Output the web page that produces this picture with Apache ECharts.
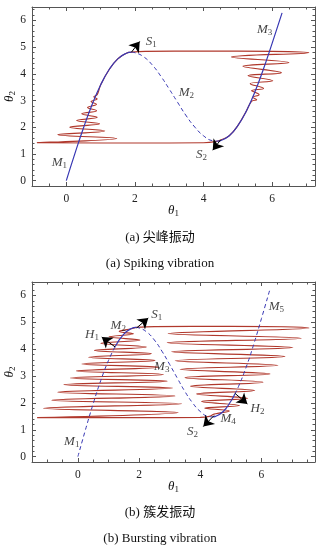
<!DOCTYPE html>
<html><head><meta charset="utf-8">
<script src="https://cdn.jsdelivr.net/npm/echarts@6/dist/echarts.min.js"></script>
<style>html,body{margin:0;padding:0;background:#fff;}#c{width:327px;height:551px;}</style>
</head><body><div id="c"></div>
<script>
// ---------- tick labels ----------
const xTickLabels = [0, 2, 4, 6];
const yTickLabels = [0, 1, 2, 3, 4, 5, 6];

// ---------- slow manifold ----------
const manifoldLower = [[0,0],[0.25,1.01],[0.5,1.97],[0.75,2.84],[1.0,3.58],[1.25,4.16],[1.5,4.56],[1.75,4.77],[1.9,4.81]];
const manifoldMiddle = [[1.9,4.81],[2.0,4.79],[2.25,4.64],[2.5,4.34],[2.75,3.92],[3.0,3.43],[3.25,2.92],[3.5,2.42],[3.75,2.0],[4.0,1.68],[4.25,1.5],[4.4,1.48]];
const manifoldUpper = [[4.4,1.48],[4.5,1.5],[4.75,1.68],[5.0,2.06],[5.25,2.61],[5.5,3.33],[5.75,4.19],[6.0,5.14],[6.29,6.28]];

// (b) pieces
const burstM1 = [[0,0],[0.25,1.01],[0.5,1.97],[0.75,2.84],[1.0,3.58],[1.22,4.10]];
const burstM2 = [[1.22,4.10],[1.5,4.56],[1.75,4.77],[1.9,4.81]];
const burstM3 = [[1.9,4.81],[2.0,4.79],[2.25,4.64],[2.5,4.34],[2.75,3.92],[3.0,3.43],[3.25,2.92],[3.5,2.42],[3.75,2.0],[4.0,1.68],[4.25,1.5],[4.4,1.48]];
const burstM4 = [[4.4,1.48],[4.5,1.5],[4.75,1.68],[5.0,2.06],[5.13,2.33]];
const burstM5 = [[5.13,2.33],[5.25,2.61],[5.5,3.33],[5.75,4.19],[6.0,5.14],[6.29,6.28]];

// ---------- trajectories (turning points) ----------
const spikeTrajectory = [
  [1.9,4.81],[2.3,4.84],[4.0,4.85],[6.0,4.84],[7.07,4.79],
  [4.81,4.63],[6.49,4.42],[5.15,4.28],[6.27,4.04],[5.30,3.93],[6.02,3.74],[5.36,3.63],
  [5.75,3.45],[5.40,3.37],[5.62,3.22],[5.43,3.12],[5.55,3.03],[5.40,2.97],
  [5.25,2.61],[5.0,2.06],[4.75,1.68],[4.5,1.52],[4.35,1.46],[4.0,1.42],[2.0,1.41],[-0.85,1.42],
  [1.47,1.58],[-0.25,1.72],[1.12,1.86],[0.10,2.00],[0.97,2.13],[0.30,2.25],[0.90,2.37],[0.45,2.50],
  [0.88,2.62],[0.62,2.74],[0.88,2.86],[0.72,2.96],[0.90,3.06],[0.80,3.14],[0.90,3.22],
  [1.0,3.58],[1.25,4.16],[1.5,4.56],[1.75,4.77],[1.9,4.81]
];
const burstTrajectory = [
  [1.9,4.81],[2.5,4.84],[5.0,4.85],[7.55,4.79],
  [2.95,4.58],[7.30,4.41],[2.92,4.24],[7.03,4.06],[3.06,3.90],[6.77,3.73],[3.18,3.57],[6.54,3.40],
  [3.34,3.25],[6.28,3.08],[3.50,2.94],[6.05,2.77],[3.68,2.62],[5.78,2.46],[3.88,2.33],[5.55,2.17],
  [4.04,2.05],[5.28,1.90],[4.15,1.80],[4.95,1.70],[4.45,1.58],[4.3,1.50],[4.0,1.46],[2.0,1.45],[-1.32,1.45],
  [3.28,1.64],[-1.12,1.80],[3.39,1.97],[-0.85,2.10],[3.17,2.26],[-0.66,2.40],[3.10,2.55],[-0.46,2.68],
  [2.92,2.81],[-0.25,2.93],[2.80,3.06],[-0.05,3.19],[2.64,3.33],[0.13,3.45],[2.52,3.58],[0.35,3.70],
  [2.40,3.83],[0.54,3.95],[2.24,4.08],[0.75,4.22],[2.03,4.34],[1.02,4.46],[1.82,4.57],[1.35,4.66],
  [1.75,4.76],[1.9,4.81]
];

// ---------- annotations ----------
const spikeLabels = [[-0.2,0.67,'M','1'],[3.5,3.28,'M','2'],[5.78,5.65,'M','3'],[2.48,5.21,'S','1'],[3.94,0.98,'S','2']];
const spikeArrows = [[[1.9,4.81],[2.14,5.21]],[[4.5,1.53],[4.27,1.14]]];
const burstLabels = [[-0.2,0.56,'M','1'],[1.32,4.87,'M','2'],[2.74,3.35,'M','3'],[4.91,1.43,'M','4'],[6.49,5.57,'M','5'],
  [2.58,5.28,'S','1'],[3.75,0.93,'S','2'],[0.46,4.54,'H','1'],[5.87,1.77,'H','2']];
const burstArrows = [[[1.92,4.79],[2.30,5.16]],[[1.22,4.08],[0.78,4.45]],[[4.45,1.53],[4.10,1.12]],[[5.13,2.36],[5.54,1.96]]];

const captions = [['(a) 尖峰振动',238],['(a) Spiking vibration',264],['(b) 簇发振动',513],['(b) Bursting vibration',539]];

// ---------- styling ----------
const SERIF = "'Liberation Serif','DejaVu Serif','Noto Sans CJK SC',serif";
const FRAME = '#555';
const RED = '#b0382c';
const BLUE = '#3838b4';

const rich = {
  i: {fontFamily: SERIF, fontStyle: 'italic', fontSize: 13, color: '#111'},
  s: {fontFamily: SERIF, fontSize: 9, color: '#111', padding: [6,0,0,0]}
};

function minorList(min, max, step, majors) {
  const out = [];
  for (let k = Math.ceil(min/step - 1e-9); k*step <= max + 1e-9; k++) {
    const v = Math.round(k*step*1000)/1000;
    if (majors.indexOf(v) < 0) out.push(v);
  }
  return out;
}

function axesFor(g, xmin, xmax, ymin, ymax) {
  const xMinor = minorList(xmin, xmax, 0.5, xTickLabels);
  const yMinor = minorList(ymin, ymax, 0.2, yTickLabels);
  const base = {gridIndex: g, type: 'value', splitLine: {show: false}};
  const line = {show: true, onZero: false, lineStyle: {color: FRAME, width: 1}};
  const noLine = {show: false, onZero: false};
  const lab = {fontFamily: SERIF, fontSize: 11.5, color: '#222'};
  const xs = [
    Object.assign({}, base, {min: xmin, max: xmax, position: 'bottom', axisLine: line,
      axisTick: {show: true, inside: true, length: 4, customValues: xTickLabels, lineStyle: {color: FRAME}},
      axisLabel: Object.assign({show: true, customValues: xTickLabels, margin: 7}, lab),
      name: '{i|θ}{s|1}', nameLocation: 'middle', nameGap: 17, nameMoveOverlap: false, nameTextStyle: {rich: rich}}),
    Object.assign({}, base, {min: xmin, max: xmax, position: 'bottom', axisLine: noLine,
      axisTick: {show: true, inside: true, length: 2.5, customValues: xMinor, lineStyle: {color: FRAME}},
      axisLabel: {show: false}}),
    Object.assign({}, base, {min: xmin, max: xmax, position: 'top', axisLine: line,
      axisTick: {show: true, inside: true, length: 4, customValues: xTickLabels, lineStyle: {color: FRAME}},
      axisLabel: {show: false}}),
    Object.assign({}, base, {min: xmin, max: xmax, position: 'top', axisLine: noLine,
      axisTick: {show: true, inside: true, length: 2.5, customValues: xMinor, lineStyle: {color: FRAME}},
      axisLabel: {show: false}})
  ];
  const ys = [
    Object.assign({}, base, {min: ymin, max: ymax, position: 'left', axisLine: line,
      axisTick: {show: true, inside: true, length: 4, customValues: yTickLabels, lineStyle: {color: FRAME}},
      axisLabel: Object.assign({show: true, customValues: yTickLabels, margin: 6}, lab),
      name: '{i|θ}{s|2}', nameLocation: 'middle', nameGap: 15, nameMoveOverlap: false, nameTextStyle: {rich: rich}}),
    Object.assign({}, base, {min: ymin, max: ymax, position: 'left', axisLine: noLine,
      axisTick: {show: true, inside: true, length: 2.5, customValues: yMinor, lineStyle: {color: FRAME}},
      axisLabel: {show: false}}),
    Object.assign({}, base, {min: ymin, max: ymax, position: 'right', axisLine: line,
      axisTick: {show: true, inside: true, length: 4, customValues: yTickLabels, lineStyle: {color: FRAME}},
      axisLabel: {show: false}}),
    Object.assign({}, base, {min: ymin, max: ymax, position: 'right', axisLine: noLine,
      axisTick: {show: true, inside: true, length: 2.5, customValues: yMinor, lineStyle: {color: FRAME}},
      axisLabel: {show: false}})
  ];
  return {xs, ys};
}

const A = axesFor(0, -1, 7.25, -0.2, 6.5);
const B = axesFor(1, -1.5, 7.75, -0.2, 6.5);

function lineSeries(axis, data, color, width, dashed, z, smooth) {
  return {type: 'line', xAxisIndex: axis, yAxisIndex: axis, data: data, showSymbol: false, symbol: 'none',
    smooth: smooth, silent: true, z: z, animation: false,
    lineStyle: {color: color, width: width, type: dashed ? [4, 3] : 'solid'}};
}
function annotSeries(axis, labels, arrows) {
  return {type: 'scatter', xAxisIndex: axis, yAxisIndex: axis, symbolSize: 1, silent: true, z: 10, animation: false,
    itemStyle: {color: 'rgba(0,0,0,0)'},
    data: labels,
    label: {show: true, position: 'inside', color: '#111', formatter: p => '{i|' + p.value[2] + '}{s|' + p.value[3] + '}', rich: rich},
    markLine: {silent: true, animation: false, symbol: ['none', 'arrow'], symbolSize: 10, precision: 4,
      lineStyle: {color: '#000', width: 1, type: 'solid', opacity: 1}, itemStyle: {color: '#000', opacity: 1},
      label: {show: false}, emphasis: {disabled: true},
      data: arrows.map(a => [{coord: a[0]}, {coord: a[1]}])}};
}

const chart = echarts.init(document.getElementById('c'), null, {renderer: 'canvas'});
chart.setOption({
  animation: false,
  backgroundColor: '#fff',
  grid: [
    {left: 32, top: 7, width: 283, height: 179, containLabel: false, outerBoundsMode: 'none'},
    {left: 32, top: 282, width: 283, height: 180, containLabel: false, outerBoundsMode: 'none'}
  ],
  xAxis: A.xs.concat(B.xs),
  yAxis: A.ys.concat(B.ys),
  graphic: captions.map(c => ({type: 'text', x: 160, y: c[1], silent: true,
    style: {text: c[0], font: "13px " + SERIF, fill: '#111', textAlign: 'center', textVerticalAlign: 'middle'}})),
  series: [
    lineSeries(0, spikeTrajectory, RED, 1.15, false, 2, 0.4),
    lineSeries(0, manifoldLower, BLUE, 1.2, false, 3, true),
    lineSeries(0, manifoldMiddle, BLUE, 1, true, 3, true),
    lineSeries(0, manifoldUpper, BLUE, 1.2, false, 3, true),
    annotSeries(0, spikeLabels, spikeArrows),
    lineSeries(4, burstTrajectory, RED, 1.15, false, 2, 0.4),
    lineSeries(4, burstM1, BLUE, 1, true, 3, true),
    lineSeries(4, burstM2, BLUE, 1.2, false, 3, true),
    lineSeries(4, burstM3, BLUE, 1, true, 3, true),
    lineSeries(4, burstM4, BLUE, 1.2, false, 3, true),
    lineSeries(4, burstM5, BLUE, 1, true, 3, true),
    annotSeries(4, burstLabels, burstArrows)
  ]
});
</script></body></html>
